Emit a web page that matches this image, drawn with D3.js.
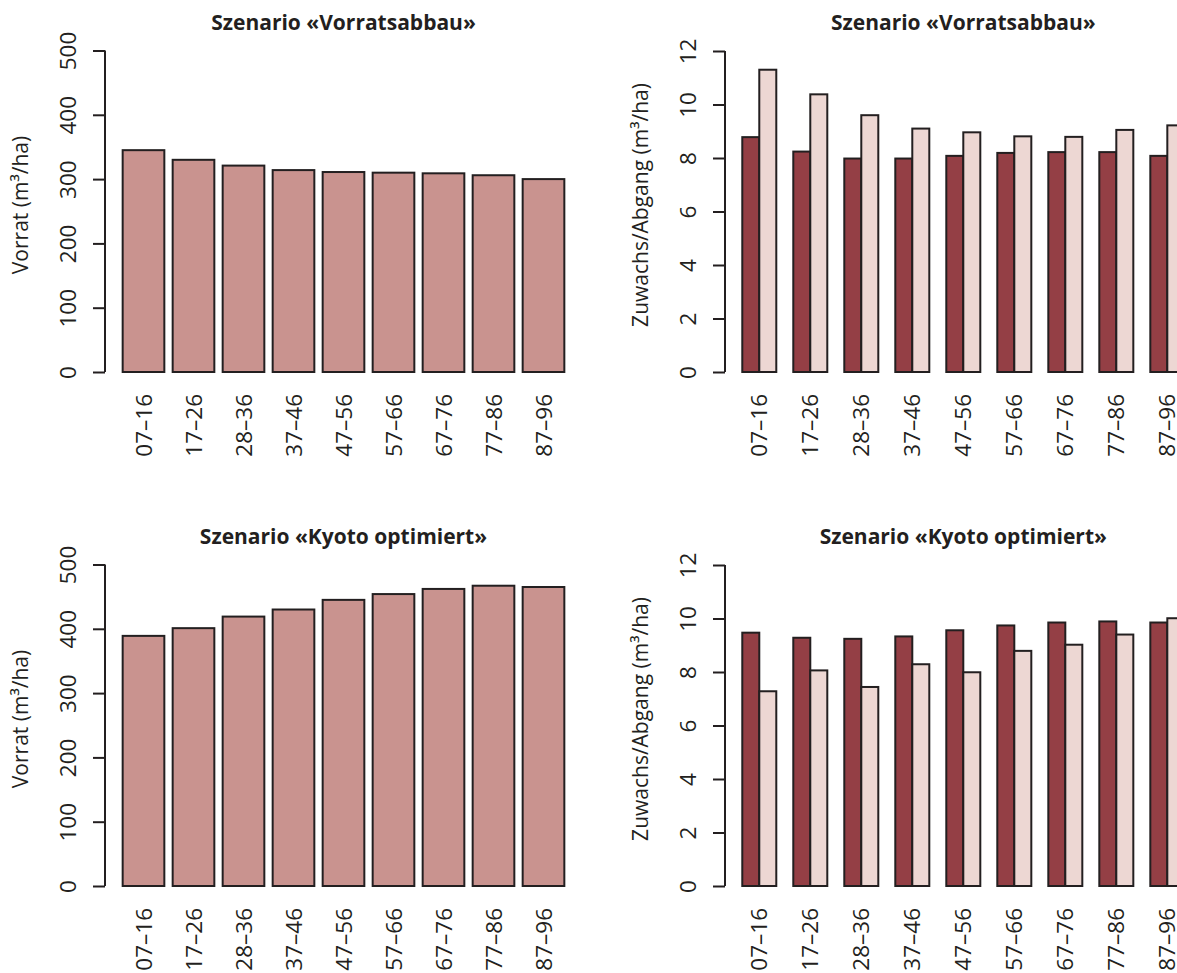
<!DOCTYPE html>
<html>
<head>
<meta charset="utf-8">
<script src="https://cdn.jsdelivr.net/npm/d3@7"></script>
<style>
html, body { margin: 0; padding: 0; background: #ffffff; }
svg { display: block; font-family: "Open Sans", sans-serif; }
</style>
</head>
<body>
<svg id="chart" width="1177" height="973"></svg>
<script>
// ---- data ----
const periods = ["07–16", "17–26", "28–36", "37–46", "47–56", "57–66", "67–76", "77–86", "87–96"];
const vorratAbbau = [345, 330, 321, 314, 311, 310, 309, 306, 300];
const vorratKyoto = [389, 401, 419, 430, 445, 454, 462, 467, 465];
const zuwachsAbbau = [8.78, 8.24, 7.98, 7.98, 8.08, 8.19, 8.22, 8.22, 8.08];
const abgangAbbau = [11.3, 10.38, 9.6, 9.1, 8.96, 8.81, 8.79, 9.05, 9.22];
const zuwachsKyoto = [9.47, 9.28, 9.24, 9.33, 9.56, 9.74, 9.85, 9.89, 9.85];
const abgangKyoto = [7.28, 8.06, 7.44, 8.29, 7.99, 8.79, 9.02, 9.40, 10.01];
const vorratTicks = [0, 100, 200, 300, 400, 500];
const zuwachsTicks = [0, 2, 4, 6, 8, 10, 12];
const titles = ["Szenario «Vorratsabbau»", "Szenario «Kyoto optimiert»"];
const ylabVorrat = "Vorrat (m³/ha)";
const ylabZuwachs = "Zuwachs/Abgang (m³/ha)";

// ---- style ----
const ink = "#231f20";
const colSingle = "#c9938f";
const colDark = "#943f45";
const colLight = "#edd7d3";
const fontSize = 21;
const tickFontSize = 22.5;

const svg = d3.select("#chart");

function drawAxisY(g, y, ticks, axisX) {
  const ax = g.append("g").attr("transform", `translate(${axisX},0)`);
  ax.call(d3.axisLeft(y).tickValues(ticks).tickSize(12).tickSizeOuter(0).tickFormat(d3.format("d")));
  ax.select(".domain").attr("stroke", ink).attr("stroke-width", 2)
    .attr("d", `M0,${y(ticks[0])}V${y(ticks[ticks.length - 1])}`);
  ax.selectAll(".tick line").attr("stroke", ink).attr("stroke-width", 2);
  ax.selectAll(".tick text")
    .attr("fill", ink)
    .attr("font-size", tickFontSize)
    .attr("font-family", "Open Sans, sans-serif")
    .attr("text-anchor", "middle")
    .attr("x", null).attr("dy", null)
    .attr("transform", "translate(-29,0) rotate(-90)")
    .attr("y", 0);
}

function drawXLabels(g, xCenter, labelTop) {
  g.append("g").selectAll("text").data(periods).join("text")
    .attr("transform", d => `translate(${xCenter(d)},${labelTop}) rotate(-90)`)
    .attr("text-anchor", "end")
    .attr("dy", "0.36em")
    .attr("fill", ink)
    .attr("font-size", tickFontSize)
    .text(d => d);
}

function drawTitle(g, text, cx, baseline) {
  g.append("text").attr("x", cx).attr("y", baseline)
    .attr("text-anchor", "middle").attr("font-weight", "bold")
    .attr("font-size", fontSize).attr("fill", ink).text(text);
}

function drawYLab(g, text, bx, cy) {
  g.append("text").attr("transform", `translate(${bx},${cy}) rotate(-90)`)
    .attr("text-anchor", "middle").attr("font-size", fontSize).attr("fill", ink).text(text);
}

function singlePanel(dy, values, title) {
  const g = svg.append("g").attr("transform", `translate(0,${dy})`);
  const left = 105, right = 582;
  const x = d3.scaleBand().domain(periods).range([left, right])
    .paddingInner(1 / 6).paddingOuter(0.3533);
  const y = d3.scaleLinear().domain([0, 500]).range([372, 50.5]);
  g.append("g").selectAll("rect").data(periods).join("rect")
    .attr("x", d => x(d)).attr("width", x.bandwidth())
    .attr("y", (d, i) => y(values[i]))
    .attr("height", (d, i) => y(0) - y(values[i]))
    .attr("fill", colSingle).attr("stroke", ink).attr("stroke-width", 2);
  drawAxisY(g, y, vorratTicks, left);
  drawXLabels(g, d => x(d) + x.bandwidth() / 2, 394);
  drawTitle(g, title, (left + right) / 2, 30);
  drawYLab(g, ylabVorrat, 28, 205);
}

function pairPanel(dy, dark, light, title) {
  const g = svg.append("g").attr("transform", `translate(0,${dy})`);
  const left = 724.6, right = 1202;
  const x = d3.scaleBand().domain(periods).range([left, right])
    .paddingInner(1 / 3).paddingOuter(0.3467);
  const sub = d3.scaleBand().domain(["dark", "light"]).range([0, x.bandwidth()]).padding(0);
  const y = d3.scaleLinear().domain([0, 12]).range([372, 51]);
  const series = [{ key: "dark", vals: dark, col: colDark }, { key: "light", vals: light, col: colLight }];
  series.forEach(s => {
    g.append("g").selectAll("rect").data(periods).join("rect")
      .attr("x", d => x(d) + sub(s.key)).attr("width", sub.bandwidth())
      .attr("y", (d, i) => y(s.vals[i]))
      .attr("height", (d, i) => y(0) - y(s.vals[i]))
      .attr("fill", s.col).attr("stroke", ink).attr("stroke-width", 2);
  });
  drawAxisY(g, y, zuwachsTicks, 725);
  drawXLabels(g, d => x(d) + x.bandwidth() / 2, 394);
  drawTitle(g, title, (left + right) / 2, 30);
  drawYLab(g, ylabZuwachs, 648, 205);
}

singlePanel(0, vorratAbbau, titles[0]);
pairPanel(0, zuwachsAbbau, abgangAbbau, titles[0]);
singlePanel(514, vorratKyoto, titles[1]);
pairPanel(514, zuwachsKyoto, abgangKyoto, titles[1]);
</script>
</body>
</html>
